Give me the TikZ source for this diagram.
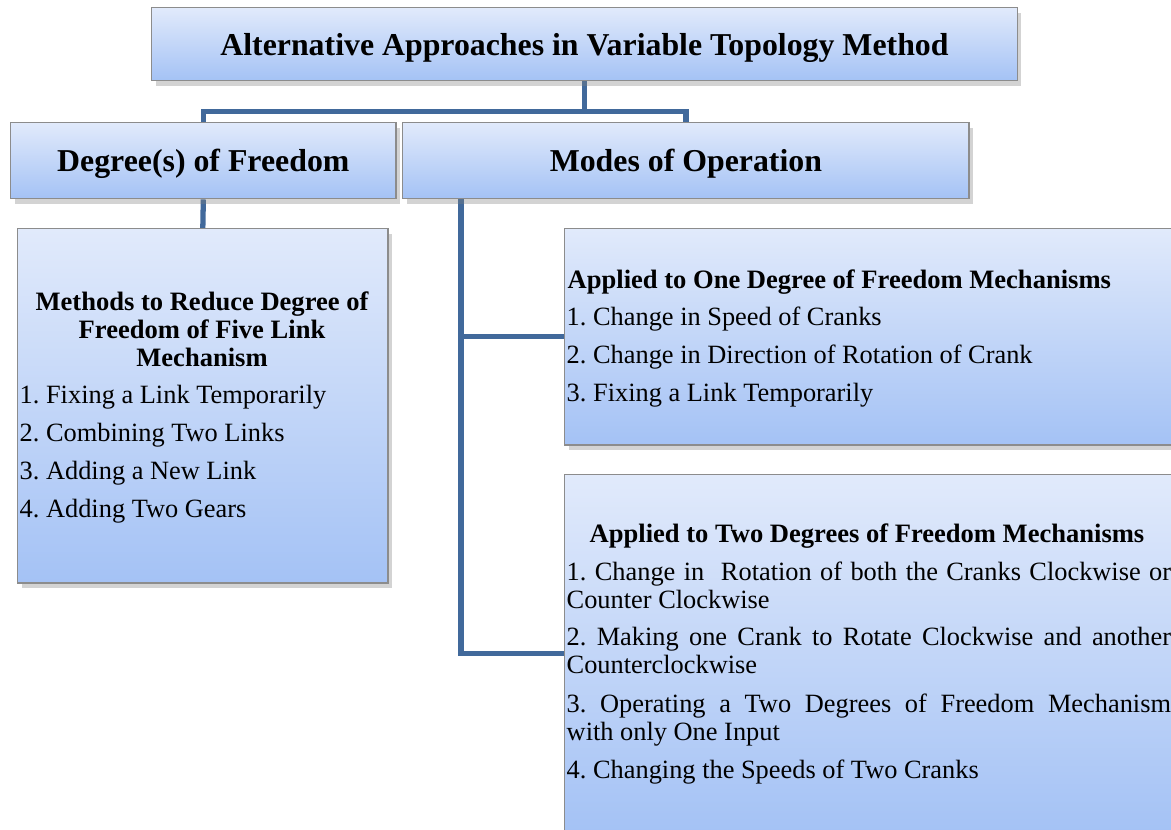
\documentclass[tikz,border=0pt]{standalone}
\usepackage{fontspec}
\setmainfont{Liberation Serif}
\usetikzlibrary{positioning,shadows,backgrounds}
\definecolor{boxtop}{HTML}{E1EAFB}
\definecolor{boxbottom}{HTML}{A4C2F5}
\definecolor{linkblue}{HTML}{41699B}
\hyphenpenalty=10000
\exhyphenpenalty=10000
\frenchspacing
\tikzset{%
  box/.style={rectangle,draw=black!45,top color=boxtop,bottom color=boxbottom,inner sep=0pt,anchor=north west,
    drop shadow={shadow xshift=0.04cm,shadow yshift=-0.05cm,opacity=0.35}},
  link/.style={draw=linkblue,line width=1.5pt},
  headtext/.style={font=\fontsize{9.05}{11}\selectfont\bfseries,text depth=0pt},
  subtext/.style={font=\fontsize{7.55}{8}\selectfont\bfseries,inner sep=0pt},
  itemtext/.style={font=\fontsize{7.5}{8}\selectfont,inner sep=0pt,anchor=west},
  longitem/.style={font=\fontsize{7.5}{8}\selectfont,inner sep=0pt,anchor=north west,text width=6.04cm,align=justify}%
}

\begin{document}
\begin{tikzpicture}[x=0.01cm,y=-0.01cm]
    \useasboundingbox (0,0) rectangle (1171,829);
    \node (title) [box,headtext,minimum width=8.65cm,minimum height=0.73cm] at (151,7) {Alternative Approaches in Variable Topology Method};
    \node (degree) [box,headtext,minimum width=3.85cm,minimum height=0.76cm] at (10,122) {Degree(s) of Freedom};
    \node (modes) [box,headtext,minimum width=5.66cm,minimum height=0.76cm] at (402,122) {Modes of Operation};
    \node (methods) [box,minimum width=3.70cm,minimum height=3.54cm] at (17,228) {};
    \node (app1) [box,minimum width=6.2cm,minimum height=2.16cm] at (564,228) {};
    \node (app2) [box,minimum width=6.2cm,minimum height=3.58cm] at (564,474) {};

    % reducing the degree of freedom
    \node (methods_head) [subtext,align=center] at (202,329) {Methods to Reduce Degree of\\Freedom of Five Link\\Mechanism};
    \node (methods_1) [itemtext] at (19,397) {1. Fixing a Link Temporarily};
    \node (methods_2) [itemtext] at (19,435) {2. Combining Two Links};
    \node (methods_3) [itemtext] at (19,473) {3. Adding a New Link};
    \node (methods_4) [itemtext] at (19,511) {4. Adding Two Gears};

    % one degree of freedom
    \node (app1_head) [subtext,anchor=west] at (567,282) {Applied to One Degree of Freedom Mechanisms};
    \node (app1_1) [itemtext] at (566,319) {1. Change in Speed of Cranks};
    \node (app1_2) [itemtext] at (566,357) {2. Change in Direction of Rotation of Crank};
    \node (app1_3) [itemtext] at (566,395) {3. Fixing a Link Temporarily};

    % two degrees of freedom
    \node (app2_head) [subtext] at (867,536) {Applied to Two Degrees of Freedom Mechanisms};
    \node (app2_1) [longitem] at (566,561) {1. Change in \ Rotation of both the Cranks Clockwise or Counter Clockwise};
    \node (app2_2) [longitem] at (566,626) {2. Making one Crank to Rotate Clockwise and another Counterclockwise};
    \node (app2_3) [longitem] at (566,693) {3. Operating a Two Degrees of Freedom Mechanism\linebreak with only One Input};
    \node (app2_4) [longitem] at (566,759) {4. Changing the Speeds of Two Cranks};

    \begin{scope}[on background layer]
      \draw[link] (title.south) -- ++(0,-0.3cm) -| (degree.north);
      \draw[link] (title.south) -- ++(0,-0.3cm) -| (modes.north);
      \draw[link] (degree.south) -- (methods.north);
      \draw[link] ([xshift=0.59cm]modes.south west) |- (app1.west);
      \draw[link] ([xshift=0.59cm]modes.south west) |- (app2.west);
    \end{scope}
\end{tikzpicture}
\end{document}
